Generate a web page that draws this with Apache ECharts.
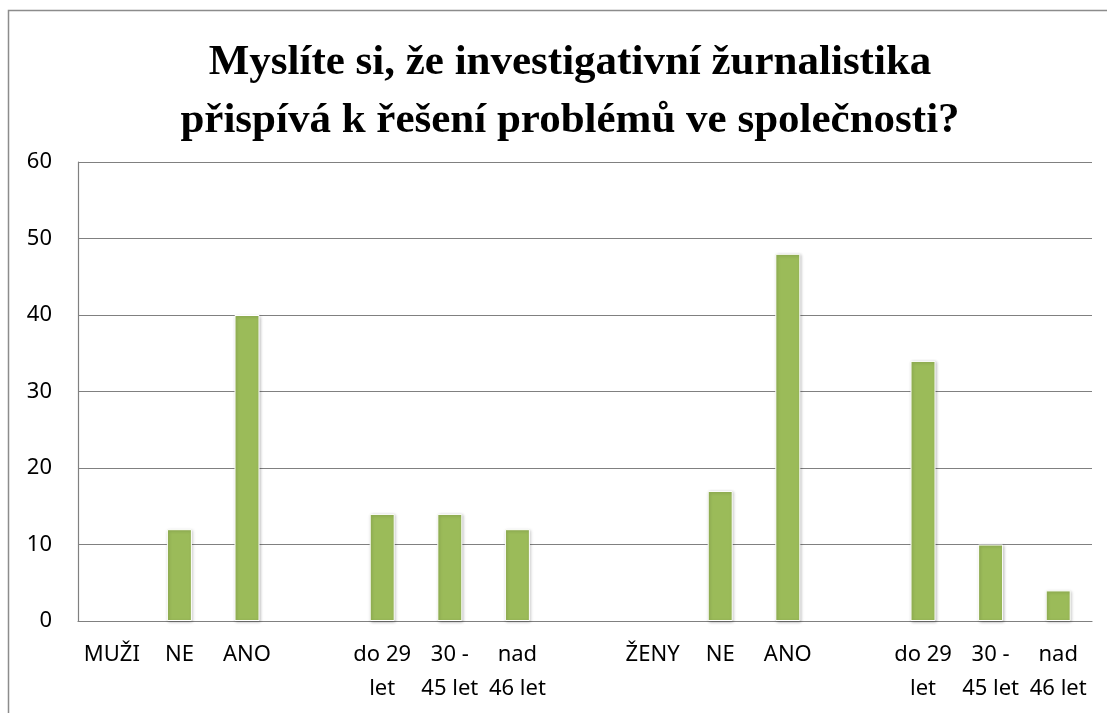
<!DOCTYPE html>
<html>
<head>
<meta charset="utf-8">
<script src="https://cdn.jsdelivr.net/npm/echarts@6/dist/echarts.min.js"></script>
<style>
  html, body { margin: 0; padding: 0; background: #fff; }
  #chart { width: 1107px; height: 713px; }
</style>
</head>
<body>
<div id="chart"></div>
<script>
// kategorie (prázdné = mezera mezi skupinami)
const categories = ['MUŽI', 'NE', 'ANO', '', 'do 29\nlet', '30 -\n45 let', 'nad\n46 let', '',
  'ŽENY', 'NE', 'ANO', '', 'do 29\nlet', '30 -\n45 let', 'nad\n46 let']
const values = [0, 12, 40, null, 14, 14, 12, null, 0, 17, 48, null, 34, 10, 4]
const yTicks = { min: 0, max: 60, interval: 10 }
const titleText = 'Myslíte si, že investigativní žurnalistika\npřispívá k řešení problémů ve společnosti?'

const myChart = echarts.init(document.getElementById('chart'))

// nulové sloupce bez okraje a stínu
const barData = values.map(v => (v === 0 ? { value: 0, itemStyle: { borderWidth: 0, shadowBlur: 0, shadowOffsetX: 0, shadowOffsetY: 0 } } : v))

const option = {
  animation: false,
  backgroundColor: '#fff',
  title: {
    text: titleText,
    left: 565,
    top: 29,
    textAlign: 'center',
    textStyle: {
      fontFamily: 'Liberation Serif',
      fontWeight: 'bold',
      fontSize: 43,
      lineHeight: 58,
      color: '#000'
    }
  },
  graphic: [
    {
      type: 'rect',
      shape: { x: 8.5, y: 10.5, width: 1300, height: 900 },
      style: { fill: 'none', stroke: '#8c8c8c', lineWidth: 1.5 },
      silent: true
    }
  ],
  grid: { left: 78, top: 162, right: 15, bottom: 92, containLabel: false },
  xAxis: {
    type: 'category',
    data: categories,
    axisLine: { show: true, lineStyle: { color: '#808080', width: 1.2 } },
    axisTick: { show: false },
    axisLabel: {
      interval: 0,
      margin: 17,
      fontFamily: 'Noto Sans',
      fontSize: 22,
      lineHeight: 34,
      color: '#000'
    }
  },
  yAxis: {
    type: 'value',
    min: yTicks.min,
    max: yTicks.max,
    interval: yTicks.interval,
    axisLine: { show: true, lineStyle: { color: '#808080', width: 1.2 } },
    axisTick: { show: false },
    splitLine: { lineStyle: { color: '#808080', width: 1.2 } },
    axisLabel: {
      margin: 26,
      fontFamily: 'Noto Sans',
      fontSize: 22,
      color: '#000'
    }
  },
  series: [
    {
      type: 'bar',
      data: barData,
      barWidth: 25,
      itemStyle: {
        color: '#9bbb59',
        borderColor: '#fff',
        borderWidth: 1,
        shadowBlur: 3,
        shadowColor: 'rgba(0,0,0,0.25)',
        shadowOffsetX: 1,
        shadowOffsetY: 1
      }
    }
  ]
}

myChart.setOption(option)
</script>
</body>
</html>
